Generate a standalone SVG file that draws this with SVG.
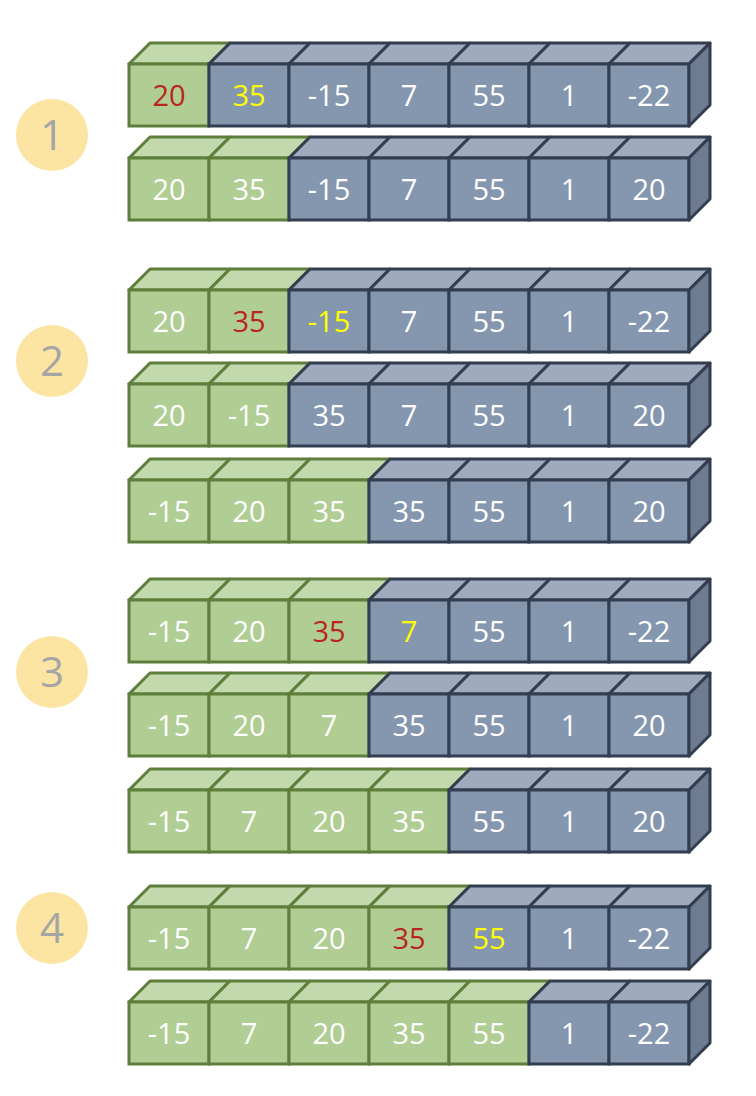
<svg xmlns="http://www.w3.org/2000/svg" xmlns:xlink="http://www.w3.org/1999/xlink" width="756" height="1096" viewBox="0 0 756 1096">
<style>
.gt{fill:#c2d8ad;stroke:#5e7e3b;stroke-width:3;stroke-linejoin:round}
.gf{fill:#b0cd94;stroke:#5e7e3b;stroke-width:3}
.bt{fill:#9eaabd;stroke:#323e4f;stroke-width:3;stroke-linejoin:round}
.bf{fill:#8596af;stroke:#323e4f;stroke-width:3}
.bs{fill:#6d7c91;stroke:#323e4f;stroke-width:3;stroke-linejoin:round}
.t{font-family:"Open Sans","Liberation Sans",sans-serif;font-size:29px;fill:#ffffff;text-anchor:middle}
.r{fill:#b8261c}
.y{fill:#ffff00}
.cn{fill:#fce5a3}
.ct{font-family:"Open Sans","Liberation Sans",sans-serif;font-size:42px;fill:#a5a5a5;text-anchor:middle}
</style>
<defs>
<g id="gc"><path class="gt" d="M0,0 L21,-21 L101,-21 L80,0 Z"/><rect class="gf" width="80" height="62"/></g>
<g id="bc"><path class="bt" d="M0,0 L21,-21 L101,-21 L80,0 Z"/><rect class="bf" width="80" height="62"/></g>
<path id="bside" class="bs" d="M80,0 L101,-21 L101,41 L80,62 Z"/>
</defs>
<g id="step-labels">
<g id="label1"><circle class="cn" cx="52" cy="135" r="36"/><text class="ct" x="52" y="150">1</text></g>
<g id="label2"><circle class="cn" cx="52" cy="361" r="36"/><text class="ct" x="52" y="376">2</text></g>
<g id="label3"><circle class="cn" cx="52" cy="672" r="36"/><text class="ct" x="52" y="687">3</text></g>
<g id="label4"><circle class="cn" cx="52" cy="928" r="36"/><text class="ct" x="52" y="943">4</text></g>
</g>
<g id="row1" transform="translate(129,64)">
<use href="#gc" x="0"/><use href="#bc" x="80"/><use href="#bc" x="160"/><use href="#bc" x="240"/><use href="#bc" x="320"/><use href="#bc" x="400"/><use href="#bc" x="480"/><use href="#bside" x="480"/>
<text class="t r" x="40" y="42">20</text><text class="t y" x="120" y="42">35</text><text class="t" x="200" y="42">-15</text><text class="t" x="280" y="42">7</text><text class="t" x="360" y="42">55</text><text class="t" x="440" y="42">1</text><text class="t" x="520" y="42">-22</text>
</g>
<g id="row2" transform="translate(129,158)">
<use href="#gc" x="0"/><use href="#gc" x="80"/><use href="#bc" x="160"/><use href="#bc" x="240"/><use href="#bc" x="320"/><use href="#bc" x="400"/><use href="#bc" x="480"/><use href="#bside" x="480"/>
<text class="t" x="40" y="42">20</text><text class="t" x="120" y="42">35</text><text class="t" x="200" y="42">-15</text><text class="t" x="280" y="42">7</text><text class="t" x="360" y="42">55</text><text class="t" x="440" y="42">1</text><text class="t" x="520" y="42">20</text>
</g>
<g id="row3" transform="translate(129,290)">
<use href="#gc" x="0"/><use href="#gc" x="80"/><use href="#bc" x="160"/><use href="#bc" x="240"/><use href="#bc" x="320"/><use href="#bc" x="400"/><use href="#bc" x="480"/><use href="#bside" x="480"/>
<text class="t" x="40" y="42">20</text><text class="t r" x="120" y="42">35</text><text class="t y" x="200" y="42">-15</text><text class="t" x="280" y="42">7</text><text class="t" x="360" y="42">55</text><text class="t" x="440" y="42">1</text><text class="t" x="520" y="42">-22</text>
</g>
<g id="row4" transform="translate(129,384)">
<use href="#gc" x="0"/><use href="#gc" x="80"/><use href="#bc" x="160"/><use href="#bc" x="240"/><use href="#bc" x="320"/><use href="#bc" x="400"/><use href="#bc" x="480"/><use href="#bside" x="480"/>
<text class="t" x="40" y="42">20</text><text class="t" x="120" y="42">-15</text><text class="t" x="200" y="42">35</text><text class="t" x="280" y="42">7</text><text class="t" x="360" y="42">55</text><text class="t" x="440" y="42">1</text><text class="t" x="520" y="42">20</text>
</g>
<g id="row5" transform="translate(129,480)">
<use href="#gc" x="0"/><use href="#gc" x="80"/><use href="#gc" x="160"/><use href="#bc" x="240"/><use href="#bc" x="320"/><use href="#bc" x="400"/><use href="#bc" x="480"/><use href="#bside" x="480"/>
<text class="t" x="40" y="42">-15</text><text class="t" x="120" y="42">20</text><text class="t" x="200" y="42">35</text><text class="t" x="280" y="42">35</text><text class="t" x="360" y="42">55</text><text class="t" x="440" y="42">1</text><text class="t" x="520" y="42">20</text>
</g>
<g id="row6" transform="translate(129,600)">
<use href="#gc" x="0"/><use href="#gc" x="80"/><use href="#gc" x="160"/><use href="#bc" x="240"/><use href="#bc" x="320"/><use href="#bc" x="400"/><use href="#bc" x="480"/><use href="#bside" x="480"/>
<text class="t" x="40" y="42">-15</text><text class="t" x="120" y="42">20</text><text class="t r" x="200" y="42">35</text><text class="t y" x="280" y="42">7</text><text class="t" x="360" y="42">55</text><text class="t" x="440" y="42">1</text><text class="t" x="520" y="42">-22</text>
</g>
<g id="row7" transform="translate(129,694)">
<use href="#gc" x="0"/><use href="#gc" x="80"/><use href="#gc" x="160"/><use href="#bc" x="240"/><use href="#bc" x="320"/><use href="#bc" x="400"/><use href="#bc" x="480"/><use href="#bside" x="480"/>
<text class="t" x="40" y="42">-15</text><text class="t" x="120" y="42">20</text><text class="t" x="200" y="42">7</text><text class="t" x="280" y="42">35</text><text class="t" x="360" y="42">55</text><text class="t" x="440" y="42">1</text><text class="t" x="520" y="42">20</text>
</g>
<g id="row8" transform="translate(129,790)">
<use href="#gc" x="0"/><use href="#gc" x="80"/><use href="#gc" x="160"/><use href="#gc" x="240"/><use href="#bc" x="320"/><use href="#bc" x="400"/><use href="#bc" x="480"/><use href="#bside" x="480"/>
<text class="t" x="40" y="42">-15</text><text class="t" x="120" y="42">7</text><text class="t" x="200" y="42">20</text><text class="t" x="280" y="42">35</text><text class="t" x="360" y="42">55</text><text class="t" x="440" y="42">1</text><text class="t" x="520" y="42">20</text>
</g>
<g id="row9" transform="translate(129,907)">
<use href="#gc" x="0"/><use href="#gc" x="80"/><use href="#gc" x="160"/><use href="#gc" x="240"/><use href="#bc" x="320"/><use href="#bc" x="400"/><use href="#bc" x="480"/><use href="#bside" x="480"/>
<text class="t" x="40" y="42">-15</text><text class="t" x="120" y="42">7</text><text class="t" x="200" y="42">20</text><text class="t r" x="280" y="42">35</text><text class="t y" x="360" y="42">55</text><text class="t" x="440" y="42">1</text><text class="t" x="520" y="42">-22</text>
</g>
<g id="row10" transform="translate(129,1002)">
<use href="#gc" x="0"/><use href="#gc" x="80"/><use href="#gc" x="160"/><use href="#gc" x="240"/><use href="#gc" x="320"/><use href="#bc" x="400"/><use href="#bc" x="480"/><use href="#bside" x="480"/>
<text class="t" x="40" y="42">-15</text><text class="t" x="120" y="42">7</text><text class="t" x="200" y="42">20</text><text class="t" x="280" y="42">35</text><text class="t" x="360" y="42">55</text><text class="t" x="440" y="42">1</text><text class="t" x="520" y="42">-22</text>
</g>
<g id="connectors"></g>
</svg>
